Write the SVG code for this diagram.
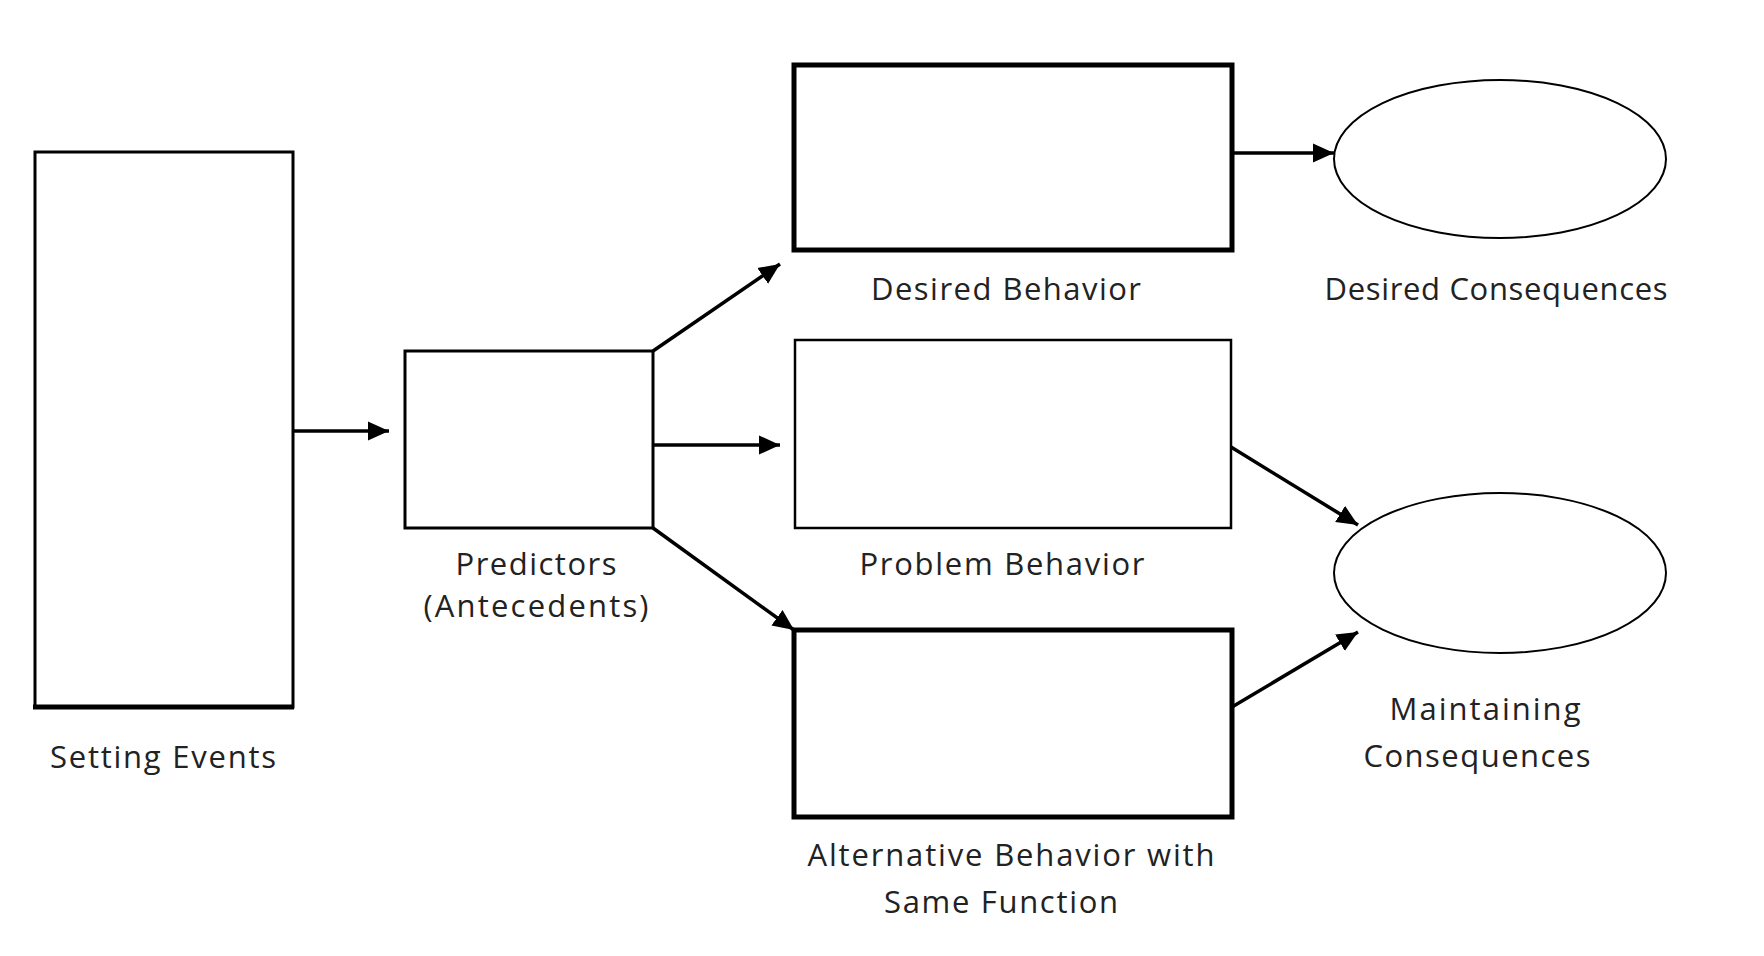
<svg xmlns="http://www.w3.org/2000/svg" width="1764" height="956" viewBox="0 0 1764 956">
<defs>
<marker id="ah" markerUnits="userSpaceOnUse" markerWidth="24" markerHeight="20" refX="21" refY="10" orient="auto">
<path d="M0,0.5 L21,10 L0,19.5 Z" fill="#000"/>
</marker>
<style>
.box{fill:#fff;stroke:#000}
.lbl{font-family:"Open Sans","Noto Sans",sans-serif;font-size:31px;fill:#222;text-anchor:middle}
.con{stroke:#000;stroke-width:3.5;fill:none;marker-end:url(#ah)}
</style>
</defs>
<rect width="1764" height="956" fill="#fff"/>
<g id="setting-events">
<rect class="box" x="35" y="152" width="258" height="555" stroke-width="3"/>
<line x1="33" y1="707" x2="294" y2="707" stroke="#000" stroke-width="5"/>
<text class="lbl" x="163" y="768" textLength="226" lengthAdjust="spacing">Setting Events</text>
</g>
<g id="predictors">
<rect class="box" x="405" y="351" width="248" height="177" stroke-width="3"/>
<text class="lbl" x="536" y="575" textLength="161" lengthAdjust="spacing">Predictors</text>
<text class="lbl" x="536" y="617" textLength="225" lengthAdjust="spacing">(Antecedents)</text>
</g>
<g id="desired-behavior">
<rect class="box" x="794" y="65" width="438" height="185" stroke-width="5"/>
<text class="lbl" x="1006" y="300" textLength="270" lengthAdjust="spacing">Desired Behavior</text>
</g>
<g id="problem-behavior">
<rect class="box" x="795" y="340" width="436" height="188" stroke-width="2.5"/>
<text class="lbl" x="1002" y="575" textLength="285" lengthAdjust="spacing">Problem Behavior</text>
</g>
<g id="alternative-behavior">
<rect class="box" x="794" y="630" width="438" height="187" stroke-width="5"/>
<text class="lbl" x="1011" y="866" textLength="407" lengthAdjust="spacing">Alternative Behavior with</text>
<text class="lbl" x="1001" y="913" textLength="234" lengthAdjust="spacing">Same Function</text>
</g>
<g id="desired-consequences">
<ellipse class="box" cx="1500" cy="159" rx="166" ry="79" stroke-width="2"/>
<text class="lbl" x="1496" y="300" textLength="343" lengthAdjust="spacing">Desired Consequences</text>
</g>
<g id="maintaining-consequences">
<ellipse class="box" cx="1500" cy="573" rx="166" ry="80" stroke-width="2"/>
<text class="lbl" x="1485" y="720" textLength="191" lengthAdjust="spacing">Maintaining</text>
<text class="lbl" x="1477" y="767" textLength="227" lengthAdjust="spacing">Consequences</text>
</g>
<g id="connectors">
<line class="con" x1="293" y1="431" x2="389" y2="431"/>
<line class="con" x1="653" y1="351" x2="780" y2="264"/>
<line class="con" x1="653" y1="445" x2="780" y2="445"/>
<line class="con" x1="653" y1="528" x2="794" y2="630"/>
<line class="con" x1="1232" y1="153" x2="1334" y2="153"/>
<line class="con" x1="1231" y1="447" x2="1358" y2="525"/>
<line class="con" x1="1232" y1="707" x2="1358" y2="632"/>
</g>
</svg>
